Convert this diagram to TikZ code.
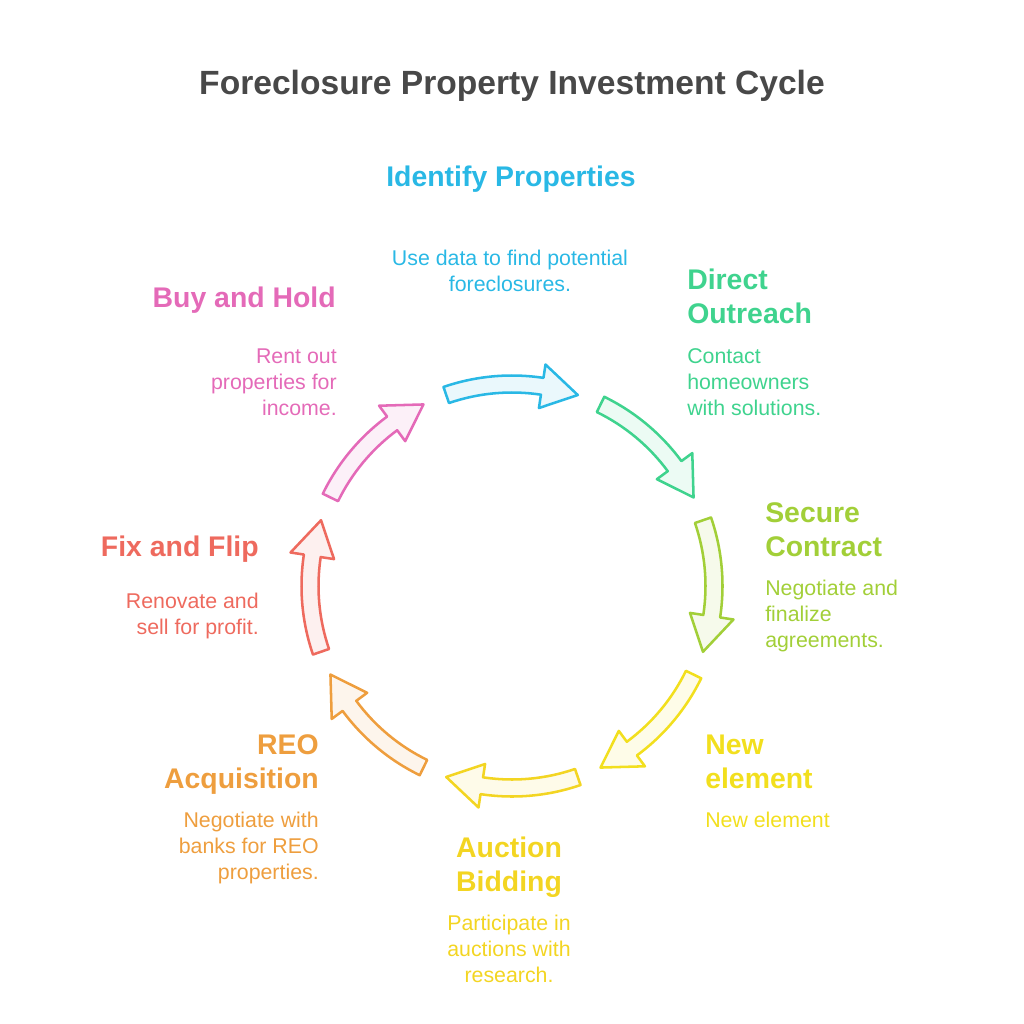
\documentclass[tikz,border=0pt]{standalone}
\usepackage{fontspec}
\setmainfont{Liberation Sans}
\definecolor{ctitle}{HTML}{484848}
\definecolor{ccyan}{HTML}{29B8E5}
\definecolor{cgreen}{HTML}{3FD38E}
\definecolor{clime}{HTML}{A2CF38}
\definecolor{cyell}{HTML}{F2DF1E}
\definecolor{cgold}{HTML}{F3D522}
\definecolor{corange}{HTML}{EE9E3E}
\definecolor{cred}{HTML}{EE6A5E}
\definecolor{cpink}{HTML}{E46AB8}
\newcommand\cycarrow[2]{%
  \pgfmathsetmacro\aA{#1+19}%
  \pgfmathsetmacro\aB{#1-8.6}%
  \pgfmathsetmacro\aC{#1-19}%
  \draw[arrowbox=#2] (\aA:210.5) arc[start angle=\aA, end angle=\aB, radius=210.5]
    -- (\aB:224) -- (\aC:202) -- (\aB:180) -- (\aB:193.5)
    arc[start angle=\aB, end angle=\aA, radius=193.5] -- cycle;}
\begin{document}
\begin{tikzpicture}[x=0.75pt,y=0.75pt,
  arrowbox/.style={draw=#1, fill=#1!10, line width=1.9pt, line join=round},
  ttl/.style={inner sep=0pt, font=\fontsize{25.2}{30}\selectfont\bfseries, text=ctitle},
  head/.style={inner sep=0pt, font=\fontsize{21.3}{25.5}\selectfont\bfseries, text=#1},
  desc/.style={inner sep=0pt, font=\fontsize{16}{19.5}\selectfont, text=#1}]
\useasboundingbox (0,0) rectangle (1024,-1024);
\node[ttl, anchor=base] (title) at (512,-94) {Foreclosure Property Investment Cycle};

\begin{scope}[shift={(512,-586)}]
\cycarrow{90}{ccyan}
\cycarrow{45}{cgreen}
\cycarrow{0}{clime}
\cycarrow{-45}{cyell}
\cycarrow{-90}{cgold}
\cycarrow{-135}{corange}
\cycarrow{180}{cred}
\cycarrow{135}{cpink}
\end{scope}

% anchors are at the baseline of the last line of each text
\node[head=ccyan, anchor=base] (idh) at (511,-186) {Identify Properties};
\node[desc=ccyan, anchor=base, align=center] (idd) at (510,-291) {Use data to find potential\\foreclosures.};

\node[head=cgreen, anchor=base west, align=left] (doh) at (687,-323) {Direct\\Outreach};
\node[desc=cgreen, anchor=base west, align=left] (dod) at (687,-415) {Contact\\homeowners\\with solutions.};

\node[head=clime, anchor=base west, align=left] (sch) at (765,-556) {Secure\\Contract};
\node[desc=clime, anchor=base west, align=left] (scd) at (765,-647) {Negotiate and\\finalize\\agreements.};

\node[head=cyell, anchor=base west, align=left] (neh) at (705,-788) {New\\element};
\node[desc=cyell, anchor=base west, align=left] (ned) at (705,-827) {New element};

\node[head=cgold, anchor=base, align=center] (abh) at (509,-891) {Auction\\Bidding};
\node[desc=cgold, anchor=base, align=center] (abd) at (509,-982) {Participate in\\auctions with\\research.};

\node[head=corange, anchor=base east, align=right] (reh) at (319,-788) {REO\\Acquisition};
\node[desc=corange, anchor=base east, align=right] (red) at (319,-879) {Negotiate with\\banks for REO\\properties.};

\node[head=cred, anchor=base east, align=right] (ffh) at (259,-556) {Fix and Flip};
\node[desc=cred, anchor=base east, align=right] (ffd) at (259,-634) {Renovate and\\sell for profit.};

\node[head=cpink, anchor=base east, align=right] (bhh) at (336,-307) {Buy and Hold};
\node[desc=cpink, anchor=base east, align=right] (bhd) at (337,-415) {Rent out\\properties for\\income.};
\end{tikzpicture}
\end{document}
